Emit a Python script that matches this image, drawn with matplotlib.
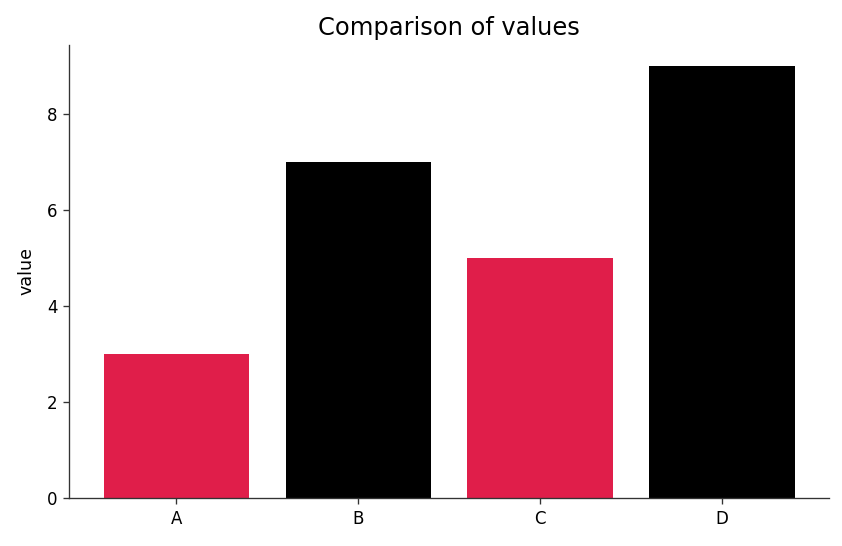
import matplotlib
matplotlib.use("Agg")
import matplotlib.pyplot as plt

# data
categories = ["A", "B", "C", "D"]
values = [3, 7, 5, 9]
colors = ["#E01E4A", "black", "#E01E4A", "black"]

fig = plt.figure(figsize=(842 / 120, 546 / 120), dpi=120)
ax = fig.add_axes([0.082, 0.088, 0.903, 0.83])

ax.bar(categories, values, color=colors, width=0.8)
ax.set_ylabel("value", labelpad=7, fontsize=10.5)
ax.set_title("Comparison of values", fontsize=14.5)
ax.spines["top"].set_visible(False)
ax.spines["right"].set_visible(False)
for s in ("left", "bottom"):
    ax.spines[s].set_color("#333333")
ax.tick_params(color="#333333")

fig.savefig("out.png", dpi=120)
